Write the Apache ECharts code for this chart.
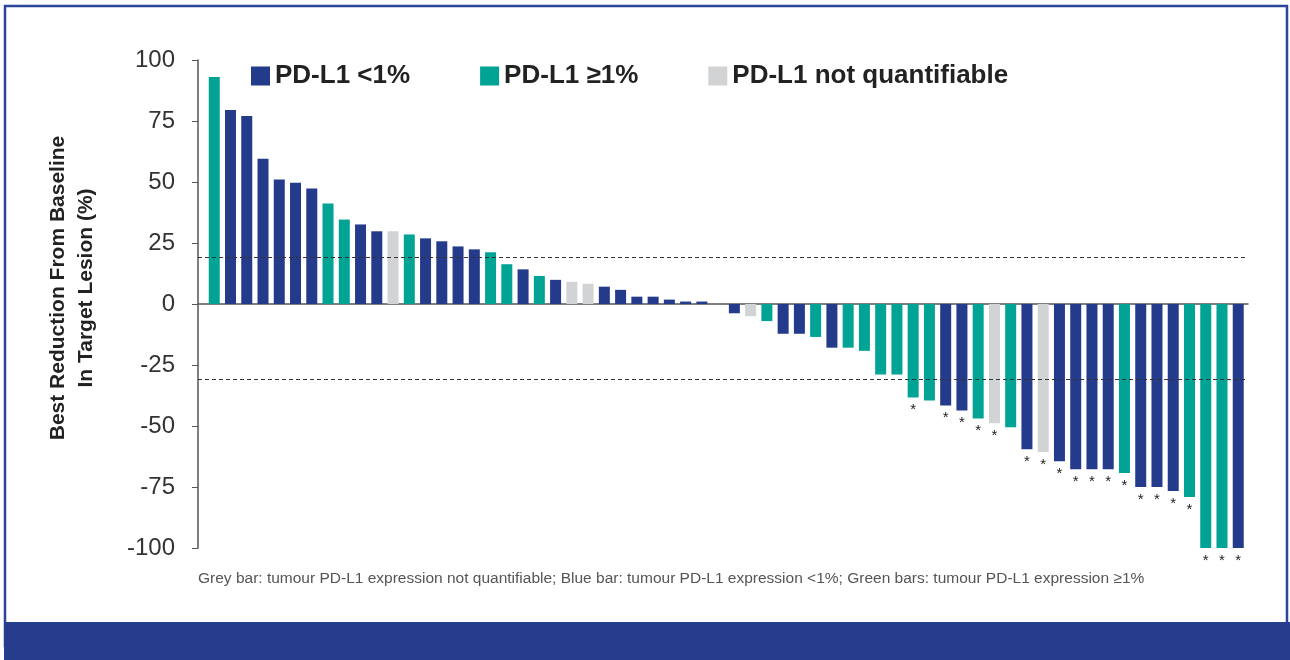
<!DOCTYPE html>
<html>
<head>
<meta charset="utf-8">
<script src="https://cdn.jsdelivr.net/npm/echarts@6/dist/echarts.min.js"></script>
<style>
  html, body { margin: 0; padding: 0; background: #fff; }
  #chart { width: 1290px; height: 660px; }
</style>
</head>
<body>
<div id="chart"></div>
<script>
// one entry per patient, left to right
var patients = [1,2,3,4,5,6,7,8,9,10,11,12,13,14,15,16,17,18,19,20,21,22,23,24,25,26,27,28,29,30,31,32,
  33,34,35,36,37,38,39,40,41,42,43,44,45,46,47,48,49,50,51,52,53,54,55,56,57,58,59,60,61,62,63,64];
var reduction = [93, 79.5, 77, 59.5, 51, 49.7, 47.3, 41.2, 34.6, 32.6, 29.8, 29.8, 28.5, 26.9, 25.7, 23.6,
  22.4, 21.2, 16.3, 14.2, 11.5, 9.9, 9.1, 8.3, 7.1, 5.8, 3, 3, 1.8, 1, 1, 0,
  -3.8, -5, -7, -12.2, -12.2, -13.5, -17.9, -17.9, -19.2, -28.9, -28.9, -38.3, -39.5, -41.6, -43.6, -46.9,
  -48.9, -50.5, -59.5, -60.7, -64.4, -67.7, -67.7, -67.7, -69.3, -75, -75, -76.6, -79.1, -100, -100, -100];
// L = PD-L1 <1%, H = PD-L1 >=1%, N = not quantifiable
var pdl1 = ['H','L','L','L','L','L','L','H','H','L','L','N','H','L','L','L','L','H','H','L','H','L','N','N',
  'L','L','L','L','L','L','L','L','L','N','H','L','L','H','L','H','H','H','H','H','H','L','L','H',
  'N','H','L','N','L','L','L','L','H','L','L','L','H','H','H','L'];
var starred = [44,46,47,48,49,51,52,53,54,55,56,57,58,59,60,61,62,63,64];
var groupNames = {L: 'PD-L1 <1%', H: 'PD-L1 \u22651%', N: 'PD-L1 not quantifiable'};
var groupColors = {L: '#243b8b', H: '#00a394', N: '#d1d3d4'};
var yTicks = [-100, -75, -50, -25, 0, 25, 50, 75, 100];
var thresholds = [19, -31];

var FONT = "'Liberation Sans', Arial, Helvetica, sans-serif";

function seriesFor(g) {
  var data = [];
  for (var i = 0; i < patients.length; i++) {
    if (pdl1[i] !== g) continue;
    var item = {value: [patients[i], reduction[i]]};
    if (starred.indexOf(patients[i]) >= 0) {
      item.label = {show: true};
    }
    data.push(item);
  }
  var s = {
    name: groupNames[g],
    type: 'bar',
    barWidth: 11,
    barGap: '-100%',
    itemStyle: {color: groupColors[g]},
    label: {
      show: false,
      position: 'bottom',
      distance: 5,
      formatter: '*',
      fontSize: 15,
      fontFamily: FONT,
      color: '#222'
    },
    data: data
  };
  if (g === 'L') {
    s.markLine = {
      silent: true,
      symbol: 'none',
      label: {show: false},
      lineStyle: {color: '#333', type: [4, 3], width: 1},
      data: thresholds.map(function (t) { return {yAxis: t}; })
    };
  }
  return s;
}

var chart = echarts.init(document.getElementById('chart'));
chart.setOption({
  animation: false,
  grid: {left: 198, right: 42, top: 60, bottom: 112},
  legend: {
    left: 246,
    top: 58,
    icon: 'rect',
    itemWidth: 19,
    itemHeight: 19,
    itemGap: 70,
    textStyle: {fontSize: 26, fontWeight: 'bold', color: '#222', fontFamily: FONT},
    data: [groupNames.L, groupNames.H, groupNames.N]
  },
  xAxis: {
    type: 'value',
    min: 0,
    max: 64.6,
    axisLine: {onZero: true, lineStyle: {color: '#555', width: 1.5}},
    axisTick: {show: false},
    axisLabel: {show: false},
    splitLine: {show: false}
  },
  yAxis: {
    type: 'value',
    min: yTicks[0],
    max: yTicks[yTicks.length - 1],
    interval: 25,
    name: 'Best Reduction From Baseline\nIn Target Lesion (%)',
    nameLocation: 'middle',
    nameGap: 98,
    nameTextStyle: {fontSize: 21, fontWeight: 'bold', color: '#222', lineHeight: 28,
      fontFamily: FONT, padding: [0, 0, 0, 32]},
    axisLine: {show: true, lineStyle: {color: '#555', width: 1.5}},
    axisTick: {show: true, length: 6, lineStyle: {color: '#555'}},
    axisLabel: {fontSize: 24, color: '#333', margin: 23, fontFamily: FONT},
    splitLine: {show: false}
  },
  graphic: [
    {type: 'rect', shape: {x: 5, y: 6, width: 1282, height: 640},
      style: {fill: 'none', stroke: '#2b459b', lineWidth: 2.5}},
    {type: 'rect', shape: {x: 4, y: 622, width: 1286, height: 38},
      style: {fill: '#253d8c'}},
    {type: 'text', left: 198, top: 571,
      style: {text: 'Grey bar: tumour PD-L1 expression not quantifiable; Blue bar: tumour PD-L1 expression <1%; Green bars: tumour PD-L1 expression \u22651%',
        fontSize: 15.5, fill: '#555', fontFamily: FONT}}
  ],
  series: [seriesFor('L'), seriesFor('H'), seriesFor('N')]
});
</script>
</body>
</html>
